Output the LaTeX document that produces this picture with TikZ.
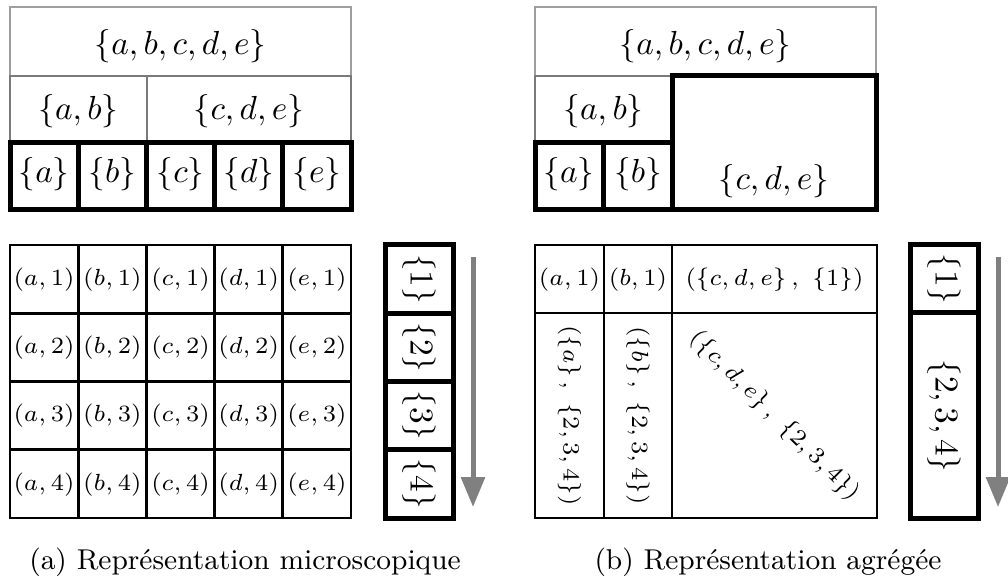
\documentclass[tikz,border=0pt]{standalone}
\usetikzlibrary{arrows.meta}
\begin{document}
\begin{tikzpicture}[x=0.3pt,y=-0.3pt,
  thinbox/.style={draw=black!38,line width=0.4pt},
  midbox/.style={draw=black!52,line width=0.75pt},
  thickbox/.style={draw=black,line width=1.5pt},
  cellbox/.style={draw=black,line width=0.8pt},
  big/.style={font=\fontsize{10}{12}\selectfont,inner sep=0pt},
  small/.style={font=\fontsize{7.5}{9}\selectfont,inner sep=0pt},
  captxt/.style={font=\fontsize{8.6}{10}\selectfont,anchor=base,inner sep=0pt},
  flow/.style={draw=black!50,line width=1.5pt,-{Triangle[length=9pt,width=7pt]}}]
\useasboundingbox (0,0) rectangle (1008,579);

% ---------------- (a) left panel ----------------
\draw[thinbox] (10,7) rectangle (351,76);
\node[big] (Lall) at (180.5,46) {$\{a,b,c,d,e\}$};
\draw[midbox] (10,76) rectangle (147,143);
\node[big] (Lab) at (78.5,111) {$\{a,b\}$};
\draw[midbox] (147,76) rectangle (351,143);
\node[big] (Lcde) at (249,111) {$\{c,d,e\}$};
\foreach \l [count=\i from 0] in {a,b,c,d,e}{
  \draw[thickbox] ({10+68.2*\i},143) rectangle ++(68.2,67);
  \node[big] (L\l) at ({44.1+68.2*\i},174) {$\{\l\}$};
}
% micro grid
\foreach \l [count=\i from 0] in {a,b,c,d,e}{
  \foreach \r [count=\j from 0] in {1,2,3,4}{
    \draw[cellbox] ({10+68.2*\i},{245+68.25*\j}) rectangle ++(68.2,68.25);
    \node[small] (m\l\r) at ({44.1+68.2*\i},{279.6+68.25*\j}) {$(\l,\r)$};
  }
}
% time column
\foreach \r [count=\j from 0] in {1,2,3,4}{
  \draw[thickbox] (385,{245+68.25*\j}) rectangle ++(68,68.25);
  \node[big,rotate=-90] (t\r) at (419,{279.1+68.25*\j}) {$\{\r\}$};
}
\coordinate (arA) at (473,257);
\coordinate (arB) at (473,507);
\draw[flow] (arA) -- (arB);
\node[captxt] (capA) at (245,569) {(a) Représentation microscopique};

% ---------------- (b) right panel ----------------
\draw[thinbox] (535,7) rectangle (876,76);
\node[big] (Rall) at (705.5,46) {$\{a,b,c,d,e\}$};
\draw[midbox] (535,76) rectangle (672,143);
\node[big] (Rab) at (603.5,111) {$\{a,b\}$};
\draw[thickbox] (535,143) rectangle (603.5,210);
\node[big] (Ra) at (569,174) {$\{a\}$};
\draw[thickbox] (603.5,143) rectangle (672,210);
\node[big] (Rb) at (638,174) {$\{b\}$};
\draw[thickbox] (672,76) rectangle (876,210);
\node[big] (Rcde) at (774,181) {$\{c,d,e\}$};
% aggregated grid
\draw[cellbox] (535,245) rectangle (604,313);
\draw[cellbox] (604,245) rectangle (672,313);
\draw[cellbox] (672,245) rectangle (877,313);
\draw[cellbox] (535,313) rectangle (604,518);
\draw[cellbox] (604,313) rectangle (672,518);
\draw[cellbox] (672,313) rectangle (877,518);
\node[small] (ga1) at (569.5,279.6) {$(a,1)$};
\node[small] (gb1) at (638,279.6) {$(b,1)$};
\node[small] (gc1) at (774.5,279.6) {$(\{c,d,e\}\,,\ \{1\})$};
\node[small,rotate=-90] (ga2) at (569.5,415.5) {$(\{a\}\,,\ \{2,3,4\})$};
\node[small,rotate=-90] (gb2) at (638,415.5) {$(\{b\}\,,\ \{2,3,4\})$};
\node[small,rotate=-45] (gc2) at (774.5,416) {$(\{c,d,e\}\,,\ \{2,3,4\})$};
% time column
\draw[thickbox] (910,245) rectangle (978,313);
\node[big,rotate=-90] (u1) at (944,279) {$\{1\}$};
\draw[thickbox] (910,313) rectangle (978,518);
\node[big,rotate=-90] (u2) at (944,416) {$\{2,3,4\}$};
\coordinate (brA) at (998,257);
\coordinate (brB) at (998,507);
\draw[flow] (brA) -- (brB);
\node[captxt] (capB) at (768,569) {(b) Représentation agrégée};
\end{tikzpicture}
\end{document}
